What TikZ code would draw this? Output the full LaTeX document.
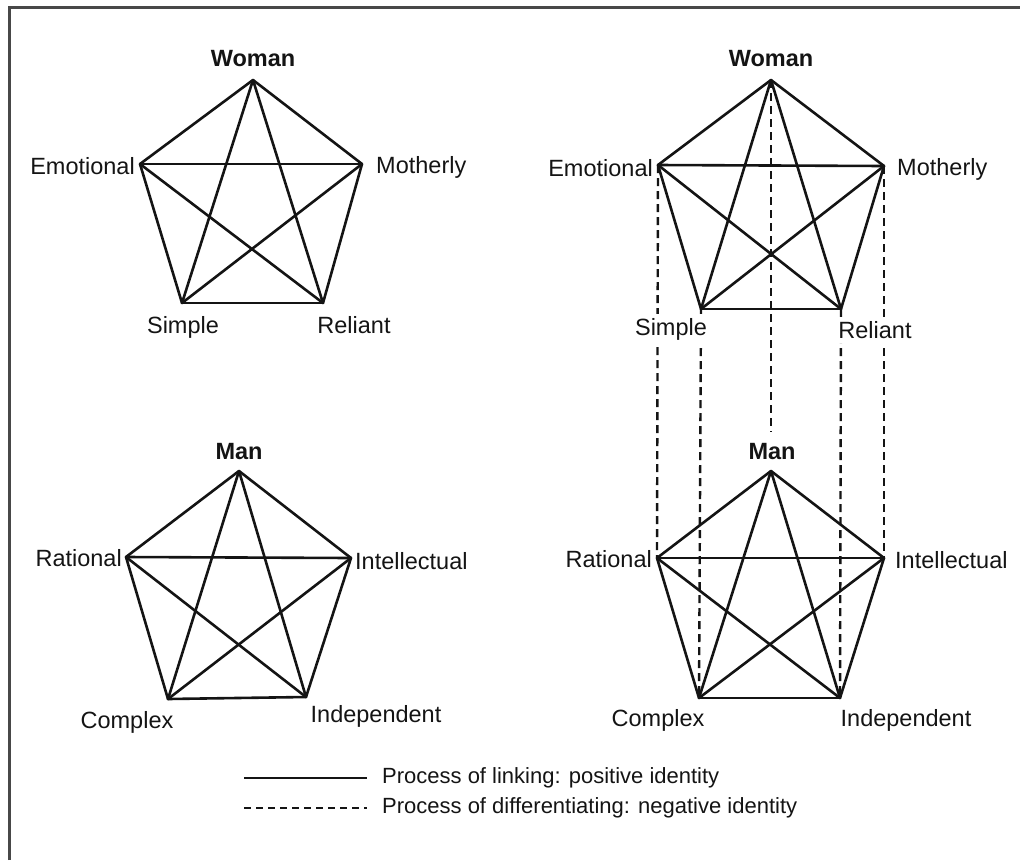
\documentclass[tikz,border=0pt]{standalone}
\usepackage{fontspec}
\setmainfont{Liberation Sans}
\usetikzlibrary{positioning}
\definecolor{framegray}{RGB}{72,72,72}
\definecolor{ink}{RGB}{20,20,20}

\begin{document}
\begin{tikzpicture}[
    x=1pt, y=-1pt,
    every node/.style={font=\fontsize{23.5}{28}\selectfont, text=ink, inner sep=1pt},
    title/.style={font=\fontsize{23.5}{28}\selectfont\bfseries},
    lbl/.style={fill=white, inner xsep=2pt, inner ysep=4pt},
    legtext/.style={font=\fontsize{22}{26}\selectfont, anchor=west},
    link/.style={draw=ink, line width=2.6pt, line join=round, line cap=round},
    diff/.style={draw=ink, line width=2.4pt, dash pattern=on 8pt off 5pt},
    legline/.style={draw=ink, line width=2pt}
  ]
  \useasboundingbox (0,0) rectangle (1020,860);
  \draw[framegray, line width=3pt] (9,860) -- (9,7) -- (1020,7);

  % pentagon corners: 1 top, 2 left, 3 right, 4 bottom left, 5 bottom right
  \coordinate (lw1) at (253,80);  \coordinate (lw2) at (140,164);
  \coordinate (lw3) at (362,164); \coordinate (lw4) at (182,303);
  \coordinate (lw5) at (323,303);

  \coordinate (lm1) at (239,471); \coordinate (lm2) at (126,557);
  \coordinate (lm3) at (351,558); \coordinate (lm4) at (168,699);
  \coordinate (lm5) at (306,697);

  \coordinate (rw1) at (771,80);  \coordinate (rw2) at (658,165);
  \coordinate (rw3) at (884,166); \coordinate (rw4) at (701,309);
  \coordinate (rw5) at (841,309);

  \coordinate (rm1) at (771,471); \coordinate (rm2) at (657,558);
  \coordinate (rm3) at (884,558); \coordinate (rm4) at (699,698);
  \coordinate (rm5) at (840,698);
  \coordinate (rmtop) at (771,432);

  % differentiating
  \draw[diff] (rw1) -- (rmtop);
  \foreach \i in {2,...,5}
    \draw[diff] (rw\i) -- (rm\i);

  % linking
  \foreach \p in {lw,lm,rw,rm}
    \foreach \i/\j in {1/2,1/3,1/4,1/5,2/3,2/4,2/5,3/4,3/5,4/5}
      \draw[link] (\p\i) -- (\p\j);

  % left pair
  \node[title] (lwname) at (253,59) {Woman};
  \node[anchor=east] (lwemo) at (136,166) {Emotional};
  \node[anchor=west] (lwmot) at (375,167) {Motherly};
  \node (lwsim) at (183,327) {Simple};
  \node (lwrel) at (354,325) {Reliant};

  \node[title] (lmname) at (239,452) {Man};
  \node[anchor=east] (lmrat) at (123,558) {Rational};
  \node[anchor=west] (lmint) at (354,561) {Intellectual};
  \node (lmcom) at (127,722) {Complex};
  \node (lmind) at (376,716) {Independent};

  % right pair
  \node[title] (rwname) at (771,59) {Woman};
  \node[anchor=east] (rwemo) at (654,168) {Emotional};
  \node[anchor=west] (rwmot) at (896,169) {Motherly};
  \node[lbl] (rwsim) at (671,329) {Simple};
  \node[lbl] (rwrel) at (875,330) {Reliant};

  \node[title] (rmname) at (772,452) {Man};
  \node[anchor=east] (rmrat) at (653,559) {Rational};
  \node[anchor=west] (rmint) at (894,560) {Intellectual};
  \node (rmcom) at (658,720) {Complex};
  \node (rmind) at (906,720) {Independent};

  % legend
  \node[legtext] (leglink) at (381,778) {Process of linking: positive identity};
  \node[legtext] (legdiff) at (381,808) {Process of differentiating: negative identity};
  \coordinate (legl) at (244,778);
  \coordinate (legd) at (244,808);
  \draw[legline] (legl) -- ([xshift=-14pt]leglink.west);
  \draw[legline, dash pattern=on 7pt off 5pt] (legd) -- ([xshift=-14pt]legdiff.west);
\end{tikzpicture}
\end{document}
